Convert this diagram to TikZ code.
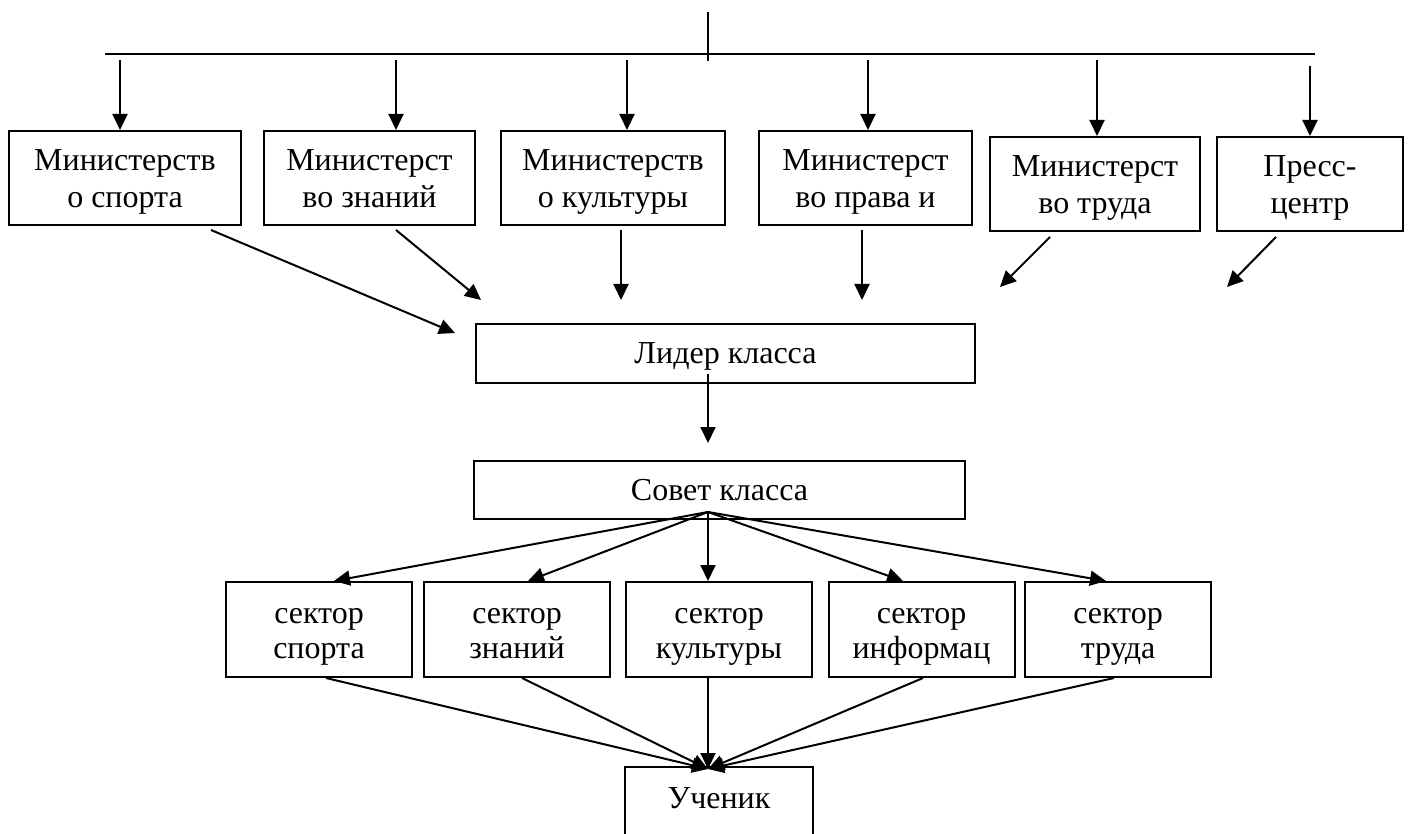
\documentclass[tikz,border=0pt]{standalone}
\usepackage{fontspec}
\setmainfont{Liberation Serif}
\usetikzlibrary{arrows.meta}
\newcommand\myfirst[1]{\rule{0pt}{#1}}
\newcommand\mylast[1]{\rule[-#1]{0pt}{#1}}
\begin{document}
\begin{tikzpicture}[x=1pt,y=-1pt,line width=2pt,
  box/.style={draw, line width=2pt, inner sep=0pt, align=center,
    font=\fontsize{32}{37}\selectfont, minimum height=94pt},
  sbox/.style={box, font=\fontsize{32}{35}\selectfont, minimum width=186pt, minimum height=95pt},
  wbox/.style={box, minimum height=59pt, text height=24pt, text depth=5pt},
  arr/.style={-{Triangle[length=16pt,width=15pt]}},
  lbl/.style={inner sep=0pt, font=\fontsize{32}{38}\selectfont}]
\useasboundingbox (0,0) rectangle (1408,834);

% top bus
\coordinate (top) at (708,12);
\coordinate (topb) at (708,61);
\coordinate (busl) at (105,54);
\coordinate (busr) at (1315,54);
\draw (top) -- (topb);
\draw (busl) -- (busr);

% ministries
\node[box, minimum width=232pt] (m1) at (125,178) {\myfirst{30pt}Министерств\\о спорта\mylast{8pt}};
\node[box, minimum width=211pt] (m2) at (369.5,178) {\myfirst{30pt}Министерст\\во знаний\mylast{8pt}};
\node[box, minimum width=224pt] (m3) at (613,178) {\myfirst{30pt}Министерств\\о культуры\mylast{8pt}};
\node[box, minimum width=213pt] (m4) at (865.5,178) {\myfirst{30pt}Министерст\\во права и\mylast{8pt}};
\node[box, minimum width=210pt] (m5) at (1095,184) {\myfirst{30pt}Министерст\\во труда\mylast{8pt}};
\node[box, minimum width=186pt] (m6) at (1310,184) {\myfirst{30pt}Пресс-\\центр\mylast{8pt}};

\coordinate (t1) at (120,60);
\coordinate (t2) at (396,60);
\coordinate (t3) at (627,60);
\coordinate (t4) at (868,60);
\coordinate (t5) at (1097,60);
\coordinate (t6) at (1310,66);
\draw[arr] (t1) -- (t1 |- m1.north);
\draw[arr] (t2) -- (t2 |- m2.north);
\draw[arr] (t3) -- (t3 |- m3.north);
\draw[arr] (t4) -- (t4 |- m4.north);
\draw[arr] (t5) -- (t5 |- m5.north);
\draw[arr] (t6) -- (t6 |- m6.north);

% arrows from ministries
\coordinate (d1s) at (211,230); \coordinate (d1e) at (455,333);
\coordinate (d2s) at (396,230); \coordinate (d2e) at (481,300);
\coordinate (d3s) at (621,230); \coordinate (d3e) at (621,300);
\coordinate (d4s) at (862,230); \coordinate (d4e) at (862,300);
\coordinate (d5s) at (1050,237); \coordinate (d5e) at (1000,287);
\coordinate (d6s) at (1276,237); \coordinate (d6e) at (1227,287);
\draw[arr] (d1s) -- (d1e);
\draw[arr] (d2s) -- (d2e);
\draw[arr] (d3s) -- (d3e);
\draw[arr] (d4s) -- (d4e);
\draw[arr] (d5s) -- (d5e);
\draw[arr] (d6s) -- (d6e);

% leader and council
\node[wbox, minimum width=499pt] (lead) at (725.5,353.5) {Лидер класса};
\node[wbox, minimum width=491pt, minimum height=58pt, text height=25pt] (sov) at (719.5,490) {Совет класса};
\coordinate (ls) at (708,374);
\coordinate (le) at (708,443);
\draw[arr] (ls) -- (le);

% sectors
\node[sbox] (s1) at (319,629.5) {\myfirst{30pt}сектор\\спорта\mylast{8pt}};
\node[sbox] (s2) at (517,629.5) {\myfirst{30pt}сектор\\знаний\mylast{8pt}};
\node[sbox] (s3) at (719,629.5) {\myfirst{30pt}сектор\\культуры\mylast{8pt}};
\node[sbox] (s4) at (921.5,629.5) {\myfirst{30pt}сектор\\информац\mylast{8pt}};
\node[sbox] (s5) at (1118,629.5) {\myfirst{30pt}сектор\\труда\mylast{8pt}};

\coordinate (apex) at (708,512);
\draw[arr] (apex) -- (s1.north -| 334,0);
\draw[arr] (apex) -- (s2.north -| 528,0);
\draw[arr] (apex) -- (s3.north -| 708,0);
\draw[arr] (apex) -- (s4.north -| 903,0);
\draw[arr] (apex) -- (s5.north -| 1106,0);

% pupil
\node[minimum width=186pt, minimum height=80pt, inner sep=0pt] (ub) at (719,808) {};
\draw (ub.south west) -- (ub.north west) -- (ub.north east) -- (ub.south east);
\node[lbl, anchor=base] (u) at (719,808) {Ученик};
\coordinate (tip) at (708,769);
\draw[arr] (s1.south -| 326,0) -- (tip);
\draw[arr] (s2.south -| 522,0) -- (tip);
\draw[arr] (s3.south -| 708,0) -- (tip);
\draw[arr] (s4.south -| 923,0) -- (tip);
\draw[arr] (s5.south -| 1114,0) -- (tip);
\end{tikzpicture}
\end{document}
